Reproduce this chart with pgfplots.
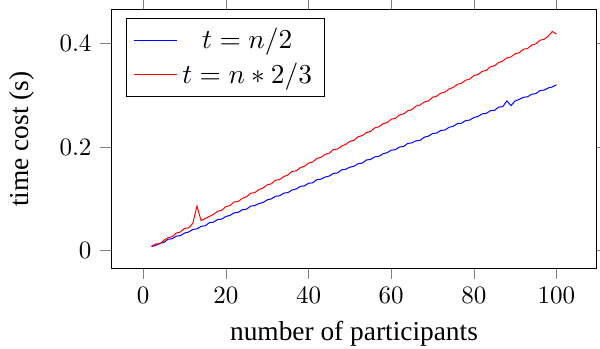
\documentclass[border=0pt]{standalone}
\usepackage{fontspec}
\setmainfont{Liberation Serif}
\usepackage{pgfplots}
\pgfplotsset{compat=1.18}
\newcommand{\lfont}{\fontsize{10.95}{13.6}\selectfont}
\begin{document}
\begin{tikzpicture}
\begin{axis}[
  name=ax,
  scale only axis,
  width=194.4pt, height=103.2pt,
  tick align=outside,
  major tick style={color=gray},
  xtick={0,20,40,60,80,100},
  ytick={0,0.2,0.4},
  xlabel={number of participants},
  ylabel={time cost (s)},
  ylabel shift=3.3pt,
  label style={font=\lfont},
  legend pos=north west,
  legend cell align=center,
  legend style={font=\lfont},
]
\addplot[color=blue] coordinates {
(2,0.008)(3,0.010)(4,0.014)(5,0.016)(6,0.022)(7,0.023)(8,0.028)(9,0.029)(10,0.034)
(11,0.036)(12,0.041)(13,0.042)(14,0.047)(15,0.048)(16,0.054)(17,0.055)(18,0.060)(19,0.061)(20,0.066)
(21,0.068)(22,0.073)(23,0.074)(24,0.079)(25,0.080)(26,0.086)(27,0.087)(28,0.091)(29,0.093)(30,0.098)
(31,0.100)(32,0.105)(33,0.106)(34,0.111)(35,0.112)(36,0.117)(37,0.119)(38,0.124)(39,0.125)(40,0.130)
(41,0.131)(42,0.137)(43,0.138)(44,0.142)(45,0.144)(46,0.149)(47,0.150)(48,0.156)(49,0.157)(50,0.161)
(51,0.163)(52,0.168)(53,0.169)(54,0.175)(55,0.176)(56,0.181)(57,0.182)(58,0.187)(59,0.189)(60,0.194)
(61,0.195)(62,0.200)(63,0.201)(64,0.207)(65,0.208)(66,0.212)(67,0.213)(68,0.219)(69,0.221)(70,0.226)
(71,0.227)(72,0.232)(73,0.233)(74,0.238)(75,0.240)(76,0.245)(77,0.246)(78,0.251)(79,0.252)(80,0.257)
(81,0.259)(82,0.264)(83,0.265)(84,0.270)(85,0.271)(86,0.277)(87,0.278)(88,0.289)(89,0.280)(90,0.289)
(91,0.292)(92,0.296)(93,0.297)(94,0.302)(95,0.303)(96,0.309)(97,0.310)(98,0.314)(99,0.316)(100,0.320)
};
\addlegendentry{$t=n/2$\hspace{3pt}}
\addplot[color=red] coordinates {
(2,0.008)(3,0.013)(4,0.013)(5,0.020)(6,0.025)(7,0.027)(8,0.034)(9,0.036)(10,0.043)
(11,0.044)(12,0.053)(13,0.086)(14,0.058)(15,0.062)(16,0.066)(17,0.070)(18,0.076)(19,0.078)(20,0.085)
(21,0.087)(22,0.094)(23,0.095)(24,0.101)(25,0.104)(26,0.111)(27,0.112)(28,0.118)(29,0.121)(30,0.127)
(31,0.129)(32,0.136)(33,0.137)(34,0.143)(35,0.146)(36,0.153)(37,0.154)(38,0.160)(39,0.163)(40,0.169)
(41,0.171)(42,0.178)(43,0.180)(44,0.186)(45,0.188)(46,0.195)(47,0.196)(48,0.202)(49,0.205)(50,0.211)
(51,0.213)(52,0.220)(53,0.222)(54,0.228)(55,0.230)(56,0.237)(57,0.239)(58,0.245)(59,0.247)(60,0.254)
(61,0.255)(62,0.262)(63,0.264)(64,0.270)(65,0.272)(66,0.279)(67,0.281)(68,0.287)(69,0.289)(70,0.296)
(71,0.298)(72,0.304)(73,0.306)(74,0.312)(75,0.315)(76,0.321)(77,0.323)(78,0.329)(79,0.331)(80,0.338)
(81,0.340)(82,0.346)(83,0.348)(84,0.355)(85,0.357)(86,0.363)(87,0.366)(88,0.372)(89,0.374)(90,0.380)
(91,0.382)(92,0.389)(93,0.390)(94,0.397)(95,0.399)(96,0.406)(97,0.408)(98,0.414)(99,0.423)(100,0.418)
};
\addlegendentry{$t=n*2/3$\hspace{3pt}}
\end{axis}
\pgfresetboundingbox
\useasboundingbox ([shift={(-44.4pt,-32pt)}]ax.south west) rectangle ([shift={(1.2pt,4pt)}]ax.north east);
\end{tikzpicture}
\end{document}
